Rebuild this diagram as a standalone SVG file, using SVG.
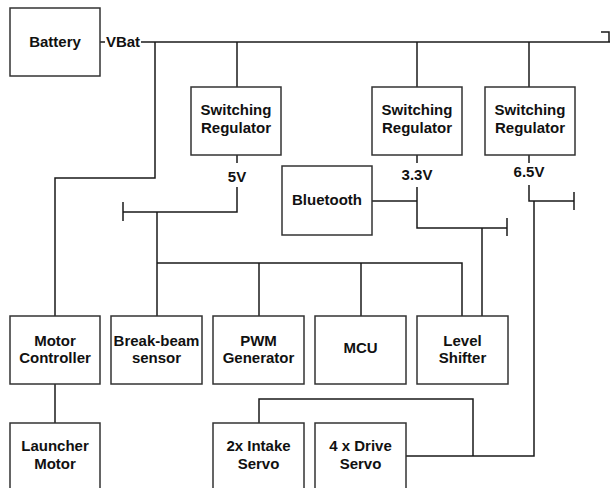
<svg xmlns="http://www.w3.org/2000/svg" width="611" height="488" viewBox="0 0 611 488">
<style>
.box{fill:#fff;stroke:#333;stroke-width:1.5}
.ln{fill:none;stroke:#1a1a1a;stroke-width:1.5}
text{font-family:"Liberation Sans",Arial,sans-serif;font-weight:bold;font-size:15px;fill:#111;text-anchor:middle}
</style>
<rect width="611" height="488" fill="#fff"/>
<g id="connectors">
<path class="ln" d="M100 42H105"/>
<path class="ln" d="M141 42H610"/>
<path class="ln" d="M601 32H609V42"/>
<path class="ln" d="M155 42V178H55V316"/>
<path class="ln" d="M237 42V87"/>
<path class="ln" d="M417 42V87"/>
<path class="ln" d="M529 42V87"/>
<path class="ln" d="M237 155V163"/>
<path class="ln" d="M237 187V212H123"/>
<path class="ln" d="M123 202V221"/>
<path class="ln" d="M157 212V316"/>
<path class="ln" d="M157 263H462V316"/>
<path class="ln" d="M259 263V316"/>
<path class="ln" d="M361 263V316"/>
<path class="ln" d="M417 155V163"/>
<path class="ln" d="M417 187V228H507"/>
<path class="ln" d="M507 218V236"/>
<path class="ln" d="M372 201H417"/>
<path class="ln" d="M482 228V316"/>
<path class="ln" d="M529 155V163"/>
<path class="ln" d="M529 185V201H574"/>
<path class="ln" d="M574 192V210"/>
<path class="ln" d="M534 201V456H406"/>
<path class="ln" d="M473 456V399H259V423"/>
<path class="ln" d="M55 384V423"/>
</g>
<g id="vbat-label"><text x="123" y="47">VBat</text></g>
<g id="battery"><rect class="box" x="10" y="8" width="90" height="68"/><text x="55" y="47">Battery</text></g>
<g id="reg5"><rect class="box" x="191" y="87" width="90" height="68"/><text x="236" y="115">Switching</text><text x="236" y="133">Regulator</text></g>
<g id="reg33"><rect class="box" x="372" y="87" width="90" height="68"/><text x="417" y="115">Switching</text><text x="417" y="133">Regulator</text></g>
<g id="reg65"><rect class="box" x="485" y="87" width="90" height="68"/><text x="530" y="115">Switching</text><text x="530" y="133">Regulator</text></g>
<g id="v5"><text x="237" y="182">5V</text></g>
<g id="v33"><text x="417" y="180">3.3V</text></g>
<g id="v65"><text x="529" y="177">6.5V</text></g>
<g id="bluetooth"><rect class="box" x="282" y="166" width="90" height="69"/><text x="327" y="205">Bluetooth</text></g>
<g id="motor-controller"><rect class="box" x="10" y="316" width="90" height="68"/><text x="55" y="346">Motor</text><text x="55" y="363">Controller</text></g>
<g id="break-beam"><rect class="box" x="111" y="316" width="91" height="68"/><text x="156.5" y="346">Break-beam</text><text x="156.5" y="363">sensor</text></g>
<g id="pwm"><rect class="box" x="213" y="316" width="91" height="68"/><text x="258.5" y="346">PWM</text><text x="258.5" y="363">Generator</text></g>
<g id="mcu"><rect class="box" x="315" y="316" width="91" height="68"/><text x="360.5" y="353">MCU</text></g>
<g id="level-shifter"><rect class="box" x="417" y="316" width="91" height="68"/><text x="462.5" y="346">Level</text><text x="462.5" y="363">Shifter</text></g>
<g id="launcher"><rect class="box" x="10" y="423" width="90" height="68"/><text x="55" y="451">Launcher</text><text x="55" y="469">Motor</text></g>
<g id="intake"><rect class="box" x="213" y="423" width="91" height="68"/><text x="258.5" y="451">2x Intake</text><text x="258.5" y="469">Servo</text></g>
<g id="drive"><rect class="box" x="315" y="423" width="91" height="68"/><text x="360.5" y="451">4 x Drive</text><text x="360.5" y="469">Servo</text></g>
</svg>
